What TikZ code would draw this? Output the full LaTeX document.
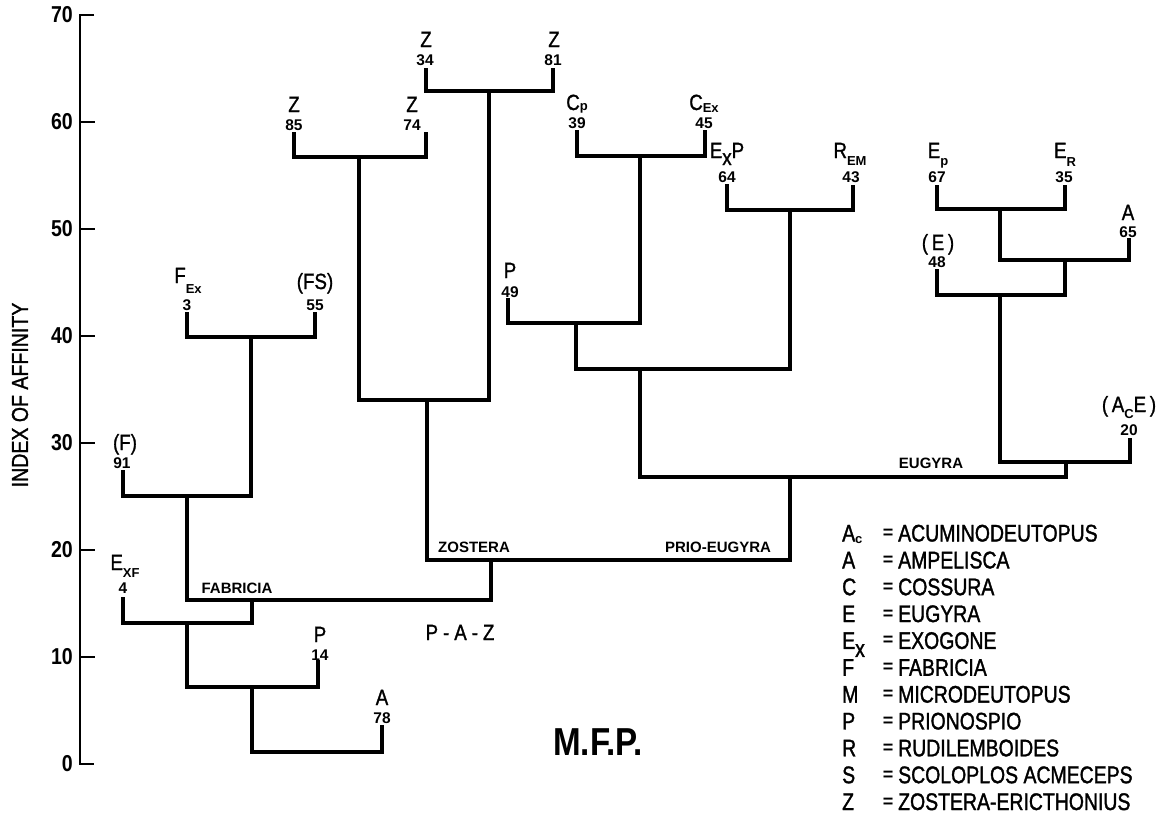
\documentclass[tikz,border=0pt]{standalone}
\usepackage{fontspec}
\setmainfont{Liberation Sans}
\newfontfamily\condfont[FakeStretch=0.85,FakeBold=1.2]{Liberation Sans}
\newfontfamily\tckfont[FakeStretch=0.85]{Liberation Sans}
\newfontfamily\legfont[FakeStretch=0.81,FakeBold=1.4]{Liberation Sans}
\newcommand\fLbl{\condfont\fontsize{22}{24}\selectfont}
\newcommand\fNum{\rmfamily\bfseries\fontsize{15.5}{16}\selectfont}
\newcommand\fInn{\rmfamily\bfseries\fontsize{15}{16}\selectfont}
\newcommand\fTck{\tckfont\bfseries\fontsize{23}{24}\selectfont}
\newcommand\fYlab{\condfont\fontsize{23}{24}\selectfont}
\newcommand\fLeg{\legfont\fontsize{24}{26}\selectfont}
\newcommand\sbx[2]{\raisebox{-#1pt}{\rmfamily\bfseries\fontsize{13}{13}\selectfont #2}}
\begin{document}
\begin{tikzpicture}[x=1pt,y=-1pt,
  br/.style={line width=3.2pt},
  ax/.style={line width=2.3pt},
  lbl/.style={inner sep=0pt,anchor=base,font=\fLbl},
  num/.style={inner sep=0pt,anchor=base,font=\fNum},
  inn/.style={inner sep=0pt,anchor=base,font=\fInn},
  tck/.style={inner sep=0pt,anchor=east,font=\fTck},
  legl/.style={inner sep=0pt,anchor=base west,font=\fLeg},
  legeq/.style={inner sep=0pt,anchor=base,font=\rmfamily\bfseries\fontsize{18}{18}\selectfont}]
\useasboundingbox (0,0) rectangle (1163,814);
% ---------- axis ----------
\coordinate (a70) at (80,15);
\coordinate (a0) at (80,764);
\draw[ax] (a70) ++(14,0) -- (a70) -- (a0) -- ++(14,0);
\foreach \v in {10,20,...,60}{\draw[ax] (80,{764-10.7*\v}) -- ++(15,0);}
\foreach \v in {0,10,...,70}{\node[tck] (t\v) at (73,{764-10.7*\v}) {\v};}
\node[inner sep=0pt,rotate=90,font=\fYlab] (ylab) at (20,395) {INDEX OF AFFINITY};
% ---------- leaf labels ----------
\node[lbl] (lZ85) at (294,112) {Z};
\node[lbl] (lZ74) at (412,112) {Z};
\node[lbl] (lZ34) at (426,47) {Z};
\node[lbl] (lZ81) at (554,47) {Z};
\node[lbl] (lC39) at (577,110) {C\sbx{0}{p}};
\node[lbl] (lC45) at (704,110) {C\sbx{2}{Ex}};
\node[lbl] (lE64) at (727,158) {E\raisebox{-7pt}{x}P};
\node[lbl] (lR43) at (850,158) {R\sbx{7}{EM}};
\node[lbl] (lE67) at (938,158) {E\sbx{7}{p}};
\node[lbl] (lE35) at (1065,158) {E\sbx{8}{R}};
\node[lbl] (lA65) at (1128,220) {A};
\node[lbl] (lE48) at (938,250) {(\,E\,)};
\node[lbl] (lAE20) at (1129,412) {(\,A\sbx{6}{C}E\,)};
\node[lbl] (lP49) at (510,278) {P};
\node[lbl] (lF3) at (188,283) {F\sbx{10}{Ex}};
\node[lbl] (lFS55) at (315,289) {(FS)};
\node[lbl] (lF91) at (125,450) {(F)};
\node[lbl] (lE4) at (125,570) {E\sbx{7}{XF}};
\node[lbl] (lP14) at (320,642) {P};
\node[lbl] (lA78) at (382,705) {A};
% ---------- numbers ----------
\node[num] (n85) at (294,130) {85};
\node[num] (n74) at (412,130) {74};
\node[num] (n34) at (425,65) {34};
\node[num] (n81) at (553,65) {81};
\node[num] (n39) at (577,128) {39};
\node[num] (n45) at (704,128) {45};
\node[num] (n64) at (727,182) {64};
\node[num] (n43) at (851,182) {43};
\node[num] (n67) at (937,182) {67};
\node[num] (n35) at (1064,182) {35};
\node[num] (n65) at (1128,237) {65};
\node[num] (n48) at (937,267) {48};
\node[num] (n20) at (1129,435) {20};
\node[num] (n49) at (510,297) {49};
\node[num] (n3) at (187,310) {3};
\node[num] (n55) at (315,310) {55};
\node[num] (n91) at (122,468) {91};
\node[num] (n4) at (123,593) {4};
\node[num] (n14) at (320,660) {14};
\node[num] (n78) at (382,723) {78};
% ---------- stub tops ----------
\coordinate (sF91) at (123,470);
\coordinate (sF3) at (187,312);
\coordinate (sFS55) at (315,312);
\coordinate (sE4) at (123,597);
\coordinate (sP14) at (318,660);
\coordinate (sA78) at (382,725);
\coordinate (sZ85) at (294,132);
\coordinate (sZ74) at (426,132);
\coordinate (sZ34) at (426,68);
\coordinate (sZ81) at (553,68);
\coordinate (sC39) at (577,130);
\coordinate (sC45) at (705,130);
\coordinate (sP49) at (508,298);
\coordinate (sE64) at (727,184);
\coordinate (sR43) at (853,185);
\coordinate (sE67) at (937,185);
\coordinate (sE35) at (1065,185);
\coordinate (sA65) at (1129,238);
\coordinate (sE48) at (937,269);
\coordinate (sAE20) at (1130,438);
% ---------- junctions ----------
\coordinate (jFF) at (251,337);
\coordinate (jF) at (187,496);
\coordinate (jFab) at (252,600);
\coordinate (jE) at (187,623);
\coordinate (jP) at (252,687);
\coordinate (jA) at (252,752);
\coordinate (jZ1) at (359,157);
\coordinate (jZ2) at (489,91);
\coordinate (jZ3) at (427,400);
\coordinate (jZ) at (491,560);
\coordinate (jC) at (640,156);
\coordinate (jP49) at (576,323);
\coordinate (jER) at (790,210);
\coordinate (jPR) at (640,369);
\coordinate (jPE) at (790,477);
\coordinate (jEU) at (1066,462);
\coordinate (jEr) at (1000,295);
\coordinate (jEA) at (1065,260);
\coordinate (jEE) at (1000,209);
% ---------- tree ----------
\draw[br] (sF3) |- (jFF) -| (sFS55);
\draw[br] (sF91) |- (jF) -| (jFF);
\draw[br] (jF) |- (jFab) -| (jZ);
\draw[br] (sE4) |- (jE) -| (jFab);
\draw[br] (sP14) |- (jP) -| (jE);
\draw[br] (sA78) |- (jA) -- (jP);
\draw[br] (sZ85) |- (jZ1) -| (sZ74);
\draw[br] (sZ34) |- (jZ2) -| (sZ81);
\draw[br] (jZ1) |- (jZ3) -| (jZ2);
\draw[br] (jZ3) |- (jZ) -| (jPE);
\draw[br] (sC39) |- (jC) -| (sC45);
\draw[br] (sP49) |- (jP49) -| (jC);
\draw[br] (sE64) |- (jER) -| (sR43);
\draw[br] (jP49) |- (jPR) -| (jER);
\draw[br] (jPR) |- (jPE) -| (jEU);
\draw[br] (sE67) |- (jEE) -| (sE35);
\draw[br] (jEE) |- (jEA) -| (sA65);
\draw[br] (sE48) |- (jEr) -| (jEA);
\draw[br] (jEr) |- (jEU) -| (sAE20);
% ---------- inner labels ----------
\node[inn] (fab) at (237,593) {FABRICIA};
\node[inn] (zos) at (474,552) {ZOSTERA};
\node[inn] (pe) at (718,552) {PRIO-EUGYRA};
\node[inn] (eu) at (931,468) {EUGYRA};
\node[lbl] (paz) at (460,640) {P\hspace{5pt}-\hspace{5pt}A\hspace{5pt}-\hspace{5pt}Z};
\node[inner sep=0pt,anchor=base,font=\tckfont\bfseries\fontsize{39}{40}\selectfont] (mfp) at (598,755) {M.F.P.};
% ---------- legend ----------
\foreach \i/\s/\w in {0/{A\sbx{2}{c}}/ACUMINODEUTOPUS,1/A/AMPELISCA,2/C/COSSURA,3/E/EUGYRA,4/{E\raisebox{-8pt}{x}}/EXOGONE,5/F/FABRICIA,6/M/MICRODEUTOPUS,7/P/PRIONOSPIO,8/R/RUDILEMBOIDES,9/S/SCOLOPLOS ACMECEPS,10/Z/ZOSTERA-ERICTHONIUS}{
  \node[legl] (lk\i) at (842,{541.5+26.85*\i}) {\s};
  \node[legeq] (le\i) at (888,{541.5+26.85*\i-3}) {=};
  \node[legl] (lw\i) at (898,{541.5+26.85*\i}) {\w};
}
\end{tikzpicture}
\end{document}
